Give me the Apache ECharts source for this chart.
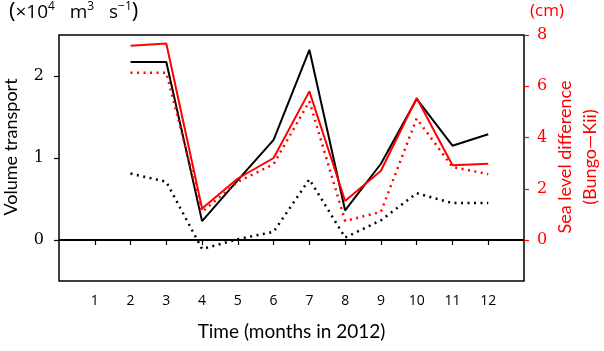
<!DOCTYPE html>
<html>
<head>
<meta charset="utf-8">
<script src="https://cdn.jsdelivr.net/npm/echarts@6/dist/echarts.min.js"></script>
<style>
  html, body { margin: 0; padding: 0; background: #fff; }
  #main { width: 604px; height: 351px; }
</style>
</head>
<body>
<div id="main"></div>
<script>
// months with data
const months = [2, 3, 4, 5, 6, 7, 8, 9, 10, 11, 12];
const xTicks = [1, 2, 3, 4, 5, 6, 7, 8, 9, 10, 11, 12];
const leftTicks = [0, 1, 2];
const rightTicks = [0, 2, 4, 6, 8];

// volume transport (x10^4 m3/s), left axis
const transportSolid = [2.17, 2.17, 0.23, 0.73, 1.22, 2.32, 0.36, 0.93, 1.72, 1.15, 1.29];
const transportDotted = [0.81, 0.71, -0.11, 0.01, 0.10, 0.74, 0.03, 0.24, 0.57, 0.45, 0.45];
// sea level difference (cm), right axis
const seaSolid = [7.58, 7.67, 1.23, 2.4, 3.2, 5.8, 1.52, 2.7, 5.54, 2.92, 2.98];
const seaDotted = [6.53, 6.53, 1.10, 2.27, 2.96, 5.41, 0.74, 1.10, 4.74, 2.85, 2.57];

const pair = arr => months.map((m, i) => [m, arr[i]]);

const chart = echarts.init(document.getElementById('main'));
const serif = '"DejaVu Serif", "Liberation Serif", serif';
const sans = '"Open Sans", "Noto Sans", sans-serif';
const title = 'Lato, "Open Sans", sans-serif';

// rotated axis titles drawn as plain text
const vTitle = (text, x, y, color) => ({
  type: 'text', x: x, y: y, rotation: Math.PI / 2,
  style: { text: text, fontFamily: title, fontSize: 18, fill: color, align: 'center', verticalAlign: 'middle' }
});

chart.setOption({
  animation: false,
  grid: {
    left: 59, right: 80, top: 35, bottom: 70,
    outerBoundsMode: 'none', containLabel: false,
    show: true, borderColor: '#000', borderWidth: 1.5, backgroundColor: 'transparent'
  },
  xAxis: {
    type: 'value', min: 0, max: 13,
    axisLine: { show: false },
    splitLine: { show: false },
    axisTick: { show: true, inside: false, length: 5, customValues: xTicks,
      lineStyle: { color: '#000', width: 1.2 } },
    axisLabel: { customValues: xTicks, color: '#000', fontFamily: sans, fontSize: 14, margin: 13 },
    name: 'Time (months in 2012)', nameLocation: 'middle', nameGap: 41,
    nameTextStyle: { color: '#000', fontFamily: title, fontSize: 19 }
  },
  yAxis: [
    {
      type: 'value', min: -0.5, max: 2.5, position: 'left',
      axisLine: { show: false },
      splitLine: { show: false },
      axisTick: { show: true, length: 5, customValues: leftTicks,
        lineStyle: { color: '#000', width: 1.2 } },
      axisLabel: { customValues: leftTicks, color: '#000', fontFamily: serif, fontSize: 16, margin: 15 }
    },
    {
      type: 'value', min: -1.6, max: 8, position: 'right',
      axisLine: { show: false },
      splitLine: { show: false },
      axisTick: { show: true, length: 5, customValues: rightTicks,
        lineStyle: { color: '#ff0000', width: 1.2 } },
      axisLabel: { customValues: rightTicks, color: '#ff0000', fontFamily: serif, fontSize: 16, margin: 13 }
    }
  ],
  graphic: [
    vTitle('Volume transport', 11, 147, '#000'),
    vTitle('Sea level difference', 565, 157, '#ff0000'),
    vTitle('(Bungo\u2014Kii)', 590, 157, '#ff0000'),
    {
      type: 'text', left: 9, top: 1,
      style: {
        text: '{p|(}{t|\u00d710}{s|4}{t|   m}{s|3}{t|   s}{s|\u22121}{p|)}',
        rich: {
          p: { fontFamily: sans, fontSize: 22, fill: '#000', verticalAlign: 'bottom' },
          t: { fontFamily: sans, fontSize: 19, fill: '#000', verticalAlign: 'bottom', padding: [0, 0, 1, 0] },
          s: { fontFamily: sans, fontSize: 12, fill: '#000', verticalAlign: 'top' }
        }
      }
    },
    {
      type: 'text', left: 530, top: 3,
      style: { text: '(cm)', fontFamily: sans, fontSize: 17, fill: '#ff0000' }
    }
  ],
  series: [
    {
      type: 'line', data: pair(transportSolid), yAxisIndex: 0, showSymbol: false,
      lineStyle: { color: '#000', width: 2 },
      markLine: {
        silent: true, symbol: 'none', label: { show: false },
        lineStyle: { color: '#000', width: 2, type: 'solid' },
        data: [{ yAxis: 0 }]
      }
    },
    {
      type: 'line', data: pair(transportDotted), yAxisIndex: 0, showSymbol: false,
      lineStyle: { color: '#000', width: 2.5, type: [2, 4.5] }
    },
    {
      type: 'line', data: pair(seaSolid), yAxisIndex: 1, showSymbol: false,
      lineStyle: { color: '#ff0000', width: 2 }
    },
    {
      type: 'line', data: pair(seaDotted), yAxisIndex: 1, showSymbol: false,
      lineStyle: { color: '#ff0000', width: 2.5, type: [2, 4.5] }
    }
  ]
});
</script>
</body>
</html>
